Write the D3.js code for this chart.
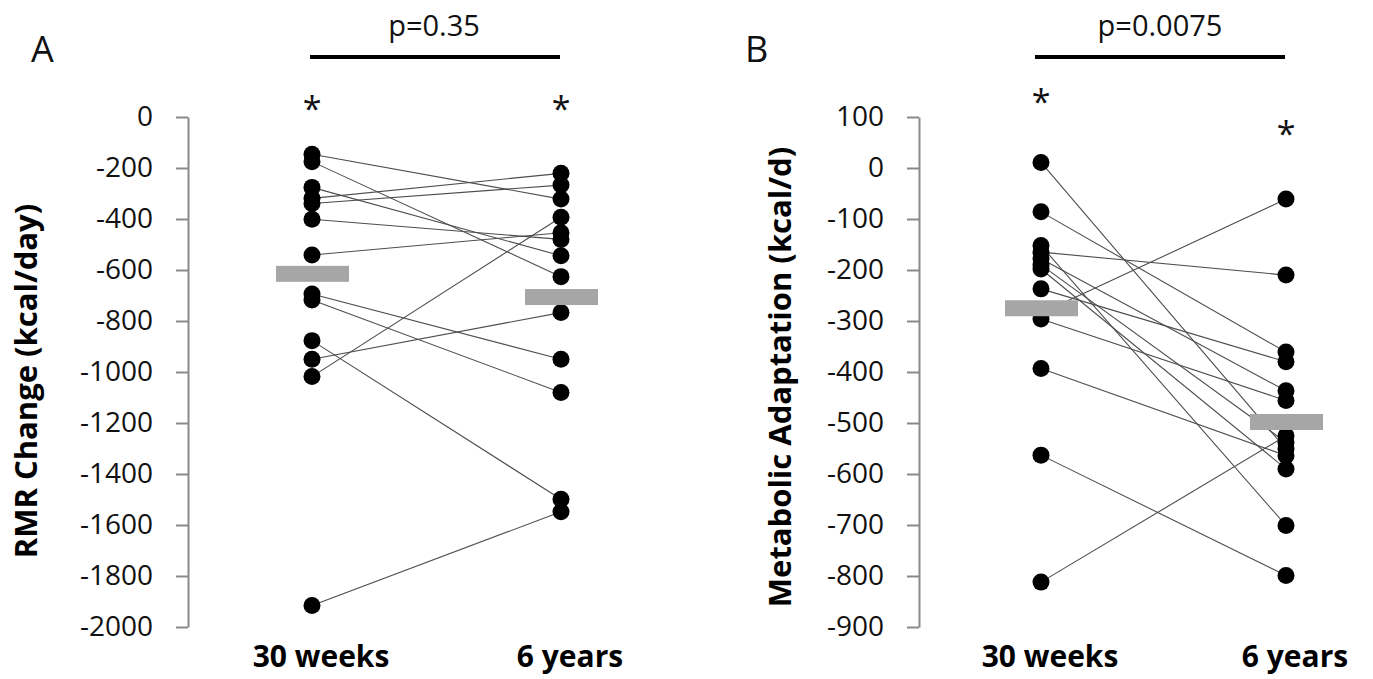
<!DOCTYPE html>
<html><head><meta charset="utf-8">
<script src="https://cdn.jsdelivr.net/npm/d3@7"></script>
<style>body{margin:0;background:#fff;} svg{display:block;font-family:"Open Sans",sans-serif;}</style>
</head><body>
<svg id="c" width="1373" height="679"></svg>
<script>
const categories = ["30 weeks", "6 years"];
// Panel A: RMR change (kcal/day), paired values
const rmr30w = [-146, -175, -276, -319, -339, -401, -541, -694, -718, -877, -950, -1018, -1916];
const rmr6y  = [-322, -626, -544, -221, -267, -480, -454, -950, -1080, -1499, -767, -393, -1548];
const rmrMeans = [-615, -706];
const rmrTicks = [0, -200, -400, -600, -800, -1000, -1200, -1400, -1600, -1800, -2000];
// Panel B: metabolic adaptation (kcal/d), paired values
const ma30w = [11, -86, -152, -165, -178, -190, -198, -237, -285, -296, -393, -563, -812];
const ma6y  = [-551, -361, -701, -210, -437, -538, -590, -380, -61, -456, -564, -799, -525];
const maMeans = [-275, -498];
const maTicks = [100, 0, -100, -200, -300, -400, -500, -600, -700, -800, -900];
const pValues = ["p=0.35", "p=0.0075"];
const panelLetters = ["A", "B"];
const yTitles = ["RMR Change (kcal/day)", "Metabolic Adaptation (kcal/d)"];

const svg = d3.select("#c");

function panel(cfg) {
  const g = svg.append("g");
  const y = d3.scaleLinear().domain(cfg.domain).range([117, 627]);
  const x = d3.scalePoint().domain(categories).range(cfg.xr);
  // axis
  const ax = g.append("g").attr("transform", `translate(${cfg.axisX},0)`)
    .call(d3.axisLeft(y).tickValues(cfg.ticks).tickSize(12).tickSizeOuter(0).tickPadding(23).tickFormat(d3.format("d")));
  ax.select(".domain").attr("stroke", "#8a8a8a").attr("stroke-width", 2);
  ax.selectAll(".tick line").attr("stroke", "#8a8a8a").attr("stroke-width", 2);
  ax.selectAll(".tick text").attr("font-size", 28).attr("fill", "#111").attr("font-family", "'Open Sans',sans-serif").text(d => d < 0 ? "-" + Math.abs(d) : d);
  // paired lines
  const pairs = cfg.a.map((v, i) => [v, cfg.b[i]]);
  g.selectAll("line.pair").data(pairs).enter().append("line")
    .attr("x1", x(categories[0])).attr("x2", x(categories[1]))
    .attr("y1", d => y(d[0])).attr("y2", d => y(d[1]))
    .attr("stroke", "#4d4d4d").attr("stroke-width", 1.1);
  // dots
  g.selectAll("circle.a").data(cfg.a).enter().append("circle")
    .attr("cx", x(categories[0])).attr("cy", d => y(d)).attr("r", 8.5).attr("fill", "#000");
  g.selectAll("circle.b").data(cfg.b).enter().append("circle")
    .attr("cx", x(categories[1])).attr("cy", d => y(d)).attr("r", 8.5).attr("fill", "#000");
  // mean bars
  g.selectAll("rect.m").data(cfg.means).enter().append("rect")
    .attr("x", (d, i) => x(categories[i]) - 36).attr("width", 73)
    .attr("y", d => y(d) - 8).attr("height", 16).attr("fill", "#a6a6a6");
  // category labels
  g.selectAll("text.cat").data(categories).enter().append("text")
    .attr("x", d => x(d) + cfg.catDx).attr("y", 667).attr("text-anchor", "middle")
    .attr("font-size", 30).attr("font-weight", "bold").attr("fill", "#000").text(d => d);
  // asterisks
  g.selectAll("text.star").data(cfg.starY).enter().append("text")
    .attr("x", (d, i) => x(categories[i])).attr("y", d => d).attr("text-anchor", "middle")
    .attr("font-size", 34).attr("fill", "#111").text("*");
  // significance bar
  g.append("line").attr("x1", cfg.bar[0]).attr("x2", cfg.bar[1]).attr("y1", 57).attr("y2", 57)
    .attr("stroke", "#000").attr("stroke-width", 4);
  g.append("text").attr("x", cfg.pX).attr("y", 36).attr("text-anchor", "middle")
    .attr("font-size", 29).attr("fill", "#111").text(cfg.p);
  // panel letter
  g.append("text").attr("x", cfg.letterX).attr("y", 62).attr("font-size", 36).attr("fill", "#111").text(cfg.letter);
  // y title
  g.append("text").attr("transform", `translate(${cfg.titleX},${cfg.titleY}) rotate(-90)`)
    .attr("text-anchor", "middle").attr("font-size", 31).attr("font-weight", "bold").attr("fill", "#000").text(cfg.title);
}

panel({domain: [0, -2000], ticks: rmrTicks, axisX: 188, xr: [312, 561], a: rmr30w, b: rmr6y, means: rmrMeans,
  starY: [121, 121], bar: [310, 560], pX: 434, p: pValues[0], letter: panelLetters[0], letterX: 31,
  title: yTitles[0], titleX: 37, titleY: 381, catDx: 9});
panel({domain: [100, -900], ticks: maTicks, axisX: 919, xr: [1041, 1286], a: ma30w, b: ma6y, means: maMeans,
  starY: [114, 146], bar: [1035, 1285], pX: 1160, p: pValues[1], letter: panelLetters[1], letterX: 745,
  title: yTitles[1], titleX: 791, titleY: 377, catDx: 9});
</script>
</body></html>
